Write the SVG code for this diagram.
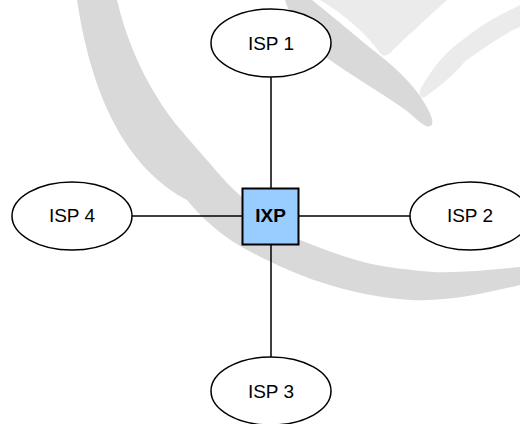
<svg xmlns="http://www.w3.org/2000/svg" width="520" height="424" viewBox="0 0 520 424">
<style>
.wm-dark{fill:#d9d9d9;stroke:none}
.wm-light{fill:#ebebeb;stroke:none}
.isp{fill:#ffffff;stroke:#000000;stroke-width:1.5}
.ixp{fill:#99ccff;stroke:#000000;stroke-width:2}
.lbl{font-family:"Liberation Sans",Arial,sans-serif;font-size:19px;fill:#000000;text-anchor:middle}
.bold{font-weight:bold}
.conn{stroke:#000000;stroke-width:1.5;fill:none}
</style>
<rect width="520" height="424" fill="#ffffff"/>
<g id="watermark">
<path class="wm-dark" d="M77,0 C95,120 140,175 187,200 C205,222 225,238 247,250 C270,262 295,274 320,282 C350,292 380,298 410,300 C450,302 490,292 520,285 L520,267 C490,270 460,273 433,272 C410,270 390,268 367,263 C340,256 320,248 300,240 C280,230 260,215 242,197 C225,182 213,167 213,167 C190,140 170,120 157,97 C140,70 125,35 117,0 Z"/>
<path class="wm-light" d="M320,0 L447,0 C425,20 405,38 392,51 C388,56 383,57 380,53 C368,35 345,15 320,0 Z"/>
<path class="wm-light" d="M520,5 C500,15 490,20 480,27 C465,38 455,45 447,53 C435,65 428,76 421,88 C418,94 420,99 425,97 C435,90 443,83 450,77 C458,70 462,64 467,60 C485,47 500,37 513,30 L520,27 Z"/>
<path class="wm-dark" d="M298,0 L312,0 C335,18 360,40 383,58 C395,68 405,77 413,87 C422,98 428,108 431,116 C434,124 432,128 426,126 C420,123 414,117 407,111 C385,95 355,78 330,60 C310,45 295,30 285,0 Z"/>
</g>
<g id="connectors">
<line class="conn" x1="271" y1="77" x2="271" y2="188"/>
<line class="conn" x1="271" y1="244" x2="271" y2="357"/>
<line class="conn" x1="132" y1="216" x2="242" y2="216"/>
<line class="conn" x1="299" y1="216" x2="410" y2="216"/>
</g>
<g id="isp1">
<ellipse class="isp" cx="271" cy="43" rx="60" ry="34"/>
<text class="lbl" x="271" y="49.5">ISP 1</text>
</g>
<g id="isp2">
<ellipse class="isp" cx="470" cy="216" rx="60" ry="34"/>
<text class="lbl" x="470" y="222">ISP 2</text>
</g>
<g id="isp3">
<ellipse class="isp" cx="271" cy="391" rx="60" ry="34"/>
<text class="lbl" x="271" y="398">ISP 3</text>
</g>
<g id="isp4">
<ellipse class="isp" cx="72" cy="216" rx="60" ry="34"/>
<text class="lbl" x="72" y="222">ISP 4</text>
</g>
<g id="ixp">
<rect class="ixp" x="242.5" y="188.5" width="56" height="56"/>
<text class="lbl bold" x="270.5" y="222">IXP</text>
</g>
</svg>
